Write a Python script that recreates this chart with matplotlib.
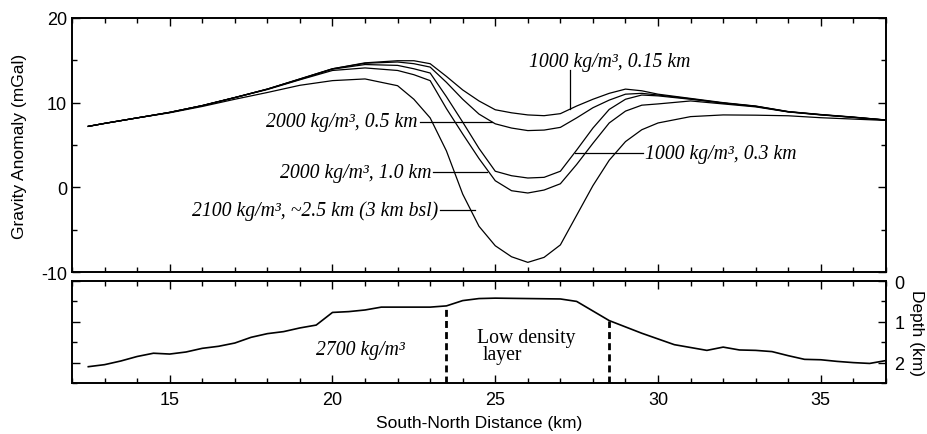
import matplotlib
matplotlib.use("Agg")
import numpy as np
import matplotlib.pyplot as plt
from matplotlib.ticker import MultipleLocator

plt.rcParams['font.family'] = ['Liberation Sans', 'DejaVu Sans']
plt.rcParams['axes.unicode_minus'] = False

# distance along profile (km)
dist = [12.5, 13, 14, 15, 16, 17, 18, 19, 20, 21, 22, 22.5, 23, 23.5, 24, 24.5,
        25, 25.5, 26, 26.5, 27, 27.5, 28, 28.5, 29, 29.5, 30, 31, 32, 33, 34,
        35, 36, 37]

# modelled gravity anomaly (mGal) for each low density layer model
g_1000_015 = [7.2, 7.55, 8.2, 8.85, 9.65, 10.6, 11.6, 12.8, 14.0, 14.7, 14.95,
              14.95, 14.6, 13.1, 11.5, 10.2, 9.16, 8.8, 8.55, 8.46, 8.7, 9.6,
              10.4, 11.1, 11.6, 11.4, 11.0, 10.5, 10.0, 9.6, 8.95, 8.6, 8.3, 7.95]
g_2000_05 = [7.2, 7.55, 8.2, 8.85, 9.65, 10.6, 11.6, 12.8, 14.0, 14.65, 14.8,
             14.6, 14.2, 12.4, 10.4, 8.65, 7.5, 7.0, 6.7, 6.76, 7.08, 8.2,
             9.4, 10.3, 11.0, 11.1, 10.9, 10.45, 9.95, 9.58, 8.93, 8.58, 8.28, 7.95]
g_1000_03 = [7.2, 7.55, 8.2, 8.85, 9.65, 10.6, 11.6, 12.75, 13.95, 14.5, 14.4,
             14.0, 13.5, 10.7, 7.7, 4.6, 1.9, 1.37, 1.1, 1.18, 1.9, 4.4,
             7.0, 9.2, 10.4, 10.9, 10.8, 10.4, 9.95, 9.55, 8.92, 8.57, 8.27, 7.94]
g_2000_10 = [7.2, 7.55, 8.2, 8.85, 9.65, 10.6, 11.55, 12.7, 13.8, 14.1, 13.8,
             13.3, 12.6, 9.3, 6.3, 3.4, 0.78, -0.4, -0.67, -0.32, 0.42, 2.7,
             5.2, 7.6, 9.0, 9.7, 9.85, 10.2, 9.85, 9.5, 8.9, 8.55, 8.25, 7.93]
g_2100_25 = [7.2, 7.55, 8.2, 8.8, 9.55, 10.4, 11.2, 12.05, 12.6, 12.8, 12.0,
             10.4, 8.2, 4.3, -0.8, -4.6, -6.9, -8.2, -8.86, -8.27, -6.8, -3.3,
             0.2, 3.2, 5.4, 6.8, 7.6, 8.35, 8.55, 8.52, 8.45, 8.22, 8.06, 7.9]

# depth to base of low density layer (km)
base_dist = [12.5, 13.0, 13.5, 14.0, 14.5, 15.0, 15.5, 16.0, 16.5, 17.0, 17.5,
             18.0, 18.5, 19.0, 19.5, 20.0, 20.5, 21.0, 21.5, 22.0, 22.5, 23.0,
             23.5, 24.0, 24.5, 25.0, 26.0, 27.0, 27.5, 28.5, 29.5, 30.5, 31.0,
             31.5, 32.0, 32.5, 33.0, 33.5, 34.0, 34.5, 35.0, 35.5, 36.0, 36.5, 37.0]
base_depth = [2.10, 2.05, 1.96, 1.85, 1.77, 1.79, 1.74, 1.65, 1.60, 1.52, 1.38,
              1.29, 1.24, 1.15, 1.08, 0.77, 0.75, 0.71, 0.64, 0.64, 0.64, 0.64,
              0.61, 0.48, 0.43, 0.42, 0.43, 0.44, 0.50, 0.97, 1.28, 1.56, 1.63,
              1.70, 1.62, 1.69, 1.70, 1.73, 1.83, 1.92, 1.93, 1.97, 2.00, 2.02, 1.95]
edge_dist = [23.5, 28.5]
edge_depth = [0.61, 0.97]

fig = plt.figure(figsize=(9.27, 4.35), dpi=100)
ax = fig.add_axes([0.0777, 0.3724, 0.878, 0.584])
ax2 = fig.add_axes([0.0777, 0.1172, 0.878, 0.2345])

for g in (g_1000_015, g_2000_05, g_1000_03, g_2000_10, g_2100_25):
    ax.plot(dist, g, color='black', lw=0.9)

ax.set_xlim(12, 37)
ax.set_ylim(-10, 20)
ax.xaxis.set_major_locator(MultipleLocator(5))
ax.xaxis.set_minor_locator(MultipleLocator(1))
ax.yaxis.set_major_locator(MultipleLocator(10))
ax.yaxis.set_minor_locator(MultipleLocator(5))
ax.tick_params(which='both', direction='in', top=True, right=True, width=1)
ax.tick_params(which='major', length=6, labelsize=13)
ax.tick_params(which='minor', length=3.5)
ax.tick_params(axis='x', labelbottom=False)
ax.set_ylabel('Gravity Anomaly (mGal)', fontsize=12.5, labelpad=10)
for s in ax.spines.values():
    s.set_linewidth(1.4)

lab = dict(family=['Liberation Serif', 'DejaVu Serif'], style='italic', fontsize=14.2)
ax.text(26.05, 14.9, '1000 kg/m³, 0.15 km', ha='left', va='center', **lab)
ax.plot([27.3, 27.3], [13.9, 9.2], color='black', lw=0.9)
ax.text(22.6, 7.75, '2000 kg/m³, 0.5 km', ha='right', va='center', **lab)
ax.plot([22.7, 24.9], [7.75, 7.75], color='black', lw=0.9)
ax.text(29.6, 4.0, '1000 kg/m³, 0.3 km', ha='left', va='center', **lab)
ax.plot([27.45, 29.55], [4.0, 4.0], color='black', lw=0.9)
ax.text(23.05, 1.77, '2000 kg/m³, 1.0 km', ha='right', va='center', **lab)
ax.plot([23.1, 24.75], [1.77, 1.77], color='black', lw=0.9)
ax.text(23.25, -2.7, '2100 kg/m³, ~2.5 km (3 km bsl)', ha='right', va='center', **lab)
ax.plot([23.3, 24.38], [-2.7, -2.7], color='black', lw=0.9)

ax2.plot(base_dist, base_depth, color='black', lw=1.2)
for xd, yd in zip(edge_dist, edge_depth):
    ax2.plot([xd, xd], [2.5, yd], color='black', lw=2, ls=(0, (2.5, 1.5)))
ax2.set_xlim(12, 37)
ax2.set_ylim(2.5, 0)
ax2.xaxis.set_major_locator(MultipleLocator(5))
ax2.xaxis.set_minor_locator(MultipleLocator(1))
ax2.yaxis.set_major_locator(MultipleLocator(1))
ax2.yaxis.set_minor_locator(MultipleLocator(0.5))
ax2.tick_params(which='both', direction='in', top=True, right=True, width=1,
                labelleft=False, labelright=True)
ax2.tick_params(which='major', length=6, labelsize=13, pad=6)
ax2.tick_params(which='minor', length=3.5)
ax2.set_xlabel('South-North Distance (km)', fontsize=12.5, labelpad=5)
ax2.yaxis.set_label_position('right')
ax2.set_ylabel('Depth (km)', fontsize=12.5, rotation=270, labelpad=14)
for s in ax2.spines.values():
    s.set_linewidth(1.4)

ax2.text(20.85, 1.67, '2700 kg/m³', ha='center', va='center', **lab)
ax2.text(24.45, 1.38, 'Low density', ha='left', va='center',
         family=['Liberation Serif', 'DejaVu Serif'], fontsize=14.2)
ax2.text(24.62, 1.80, 'layer', ha='left', va='center',
         family=['Liberation Serif', 'DejaVu Serif'], fontsize=14.2)

fig.savefig('out.png', dpi=100)
